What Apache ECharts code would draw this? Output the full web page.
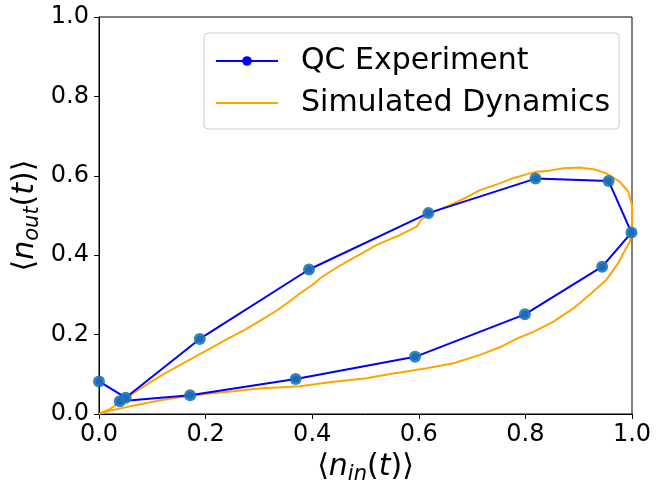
<!DOCTYPE html>
<html>
<head>
    <meta charset="utf-8">
    <title>n_in vs n_out</title>
    <script src="https://cdn.jsdelivr.net/npm/echarts@6/dist/echarts.min.js"></script>
    <style>
        html, body { margin: 0; padding: 0; background: #fff; }
        #main { width: 656px; height: 485px; }
    </style>
</head>
<body>
    <div id="main"></div>
    <script type="text/javascript">
    // QC experiment points, in time order
    var qcIn  = [0.000, 0.050, 0.189, 0.394, 0.618, 0.819, 0.956, 0.999, 0.944, 0.799, 0.593, 0.369, 0.171, 0.039];
    var qcOut = [0.082, 0.041, 0.189, 0.364, 0.506, 0.593, 0.587, 0.457, 0.371, 0.251, 0.144, 0.088, 0.047, 0.032];

    // simulated dynamics loop
    var simIn  = [0, 0.02, 0.054, 0.085, 0.118, 0.15, 0.18, 0.21, 0.242, 0.275, 0.305, 0.335, 0.361, 0.377, 0.4, 0.415, 0.44, 0.471, 0.495, 0.521, 0.545, 0.565, 0.596, 0.605, 0.621, 0.659, 0.69, 0.715, 0.752, 0.777, 0.8, 0.821, 0.845, 0.871, 0.902, 0.93, 0.952, 0.977, 0.993, 1.0, 1.0, 1.0, 0.996, 0.987, 0.974, 0.952, 0.927, 0.89, 0.852, 0.815, 0.784, 0.752, 0.715, 0.665, 0.615, 0.552, 0.502, 0.44, 0.377, 0.305, 0.242, 0.18, 0.118, 0.054, 0.02, 0];
    var simOut = [0, 0.012, 0.043, 0.07, 0.098, 0.122, 0.144, 0.166, 0.19, 0.213, 0.237, 0.262, 0.287, 0.304, 0.325, 0.342, 0.364, 0.388, 0.406, 0.426, 0.44, 0.451, 0.472, 0.49, 0.506, 0.526, 0.546, 0.564, 0.581, 0.594, 0.603, 0.61, 0.613, 0.619, 0.621, 0.616, 0.606, 0.585, 0.56, 0.526, 0.49, 0.459, 0.434, 0.413, 0.38, 0.338, 0.308, 0.266, 0.232, 0.207, 0.19, 0.168, 0.149, 0.128, 0.115, 0.102, 0.09, 0.081, 0.07, 0.065, 0.056, 0.048, 0.035, 0.018, 0.008, 0];

    function pairs(a, b) {
        var out = [];
        for (var i = 0; i < a.length; i++) out.push([a[i], b[i]]);
        return out;
    }

    var font = 'DejaVu Sans';
    var chart = echarts.init(document.getElementById('main'));

    var nameRich = {
        a: { fontFamily: font, fontSize: 30, color: '#000' },
        i: { fontFamily: font, fontSize: 30, fontStyle: 'italic', color: '#000' },
        s: { fontFamily: font, fontSize: 21, fontStyle: 'italic', color: '#000', padding: [14, 0, 0, 0] }
    };

    var option = {
        animation: false,
        grid: {
            left: 99, right: 24, top: 17, bottom: 71,
            outerBoundsMode: 'none',
            show: true, borderColor: '#000', borderWidth: 1, backgroundColor: '#fff'
        },
        legend: {
            data: [
                { name: 'QC Experiment' },
                { name: 'Simulated Dynamics', icon: 'path://M0,0L62,0L62,2L0,2Z' }
            ],
            orient: 'vertical',
            left: 204, top: 33,
            padding: [13, 9, 11, 11],
            itemWidth: 62, itemHeight: 12, itemGap: 12,
            symbolKeepAspect: true,
            backgroundColor: '#fff',
            borderColor: '#cccccc', borderWidth: 1, borderRadius: 4,
            textStyle: { fontFamily: font, fontSize: 30, color: '#000', padding: [0, 0, 0, 18] }
        },
        xAxis: {
            type: 'value', min: 0, max: 1, interval: 0.2,
            name: '{a|⟨}{i|n}{s|in}{a|(}{i|t}{a|)⟩}',
            nameLocation: 'middle', nameGap: 36, nameMoveOverlap: false,
            nameTextStyle: { rich: nameRich },
            axisLine: { show: true, lineStyle: { color: '#000', width: 1 } },
            axisTick: { show: true, inside: false, length: 5, lineStyle: { color: '#000' } },
            axisLabel: { fontFamily: font, fontSize: 24, color: '#000', margin: 9,
                formatter: function (v) { return v.toFixed(1); } },
            splitLine: { show: false }
        },
        yAxis: {
            type: 'value', min: 0, max: 1, interval: 0.2,
            name: '{a|⟨}{i|n}{s|out}{a|(}{i|t}{a|)⟩}',
            nameLocation: 'middle', nameGap: 56, nameRotate: 90, nameMoveOverlap: false,
            nameTextStyle: { rich: nameRich },
            axisLine: { show: true, lineStyle: { color: '#000', width: 1 } },
            axisTick: { show: true, inside: false, length: 5, lineStyle: { color: '#000' } },
            axisLabel: { fontFamily: font, fontSize: 24, color: '#000', margin: 10,
                formatter: function (v) { return v.toFixed(1); } },
            splitLine: { show: false }
        },
        series: [
            {
                name: 'Simulated Dynamics',
                type: 'line',
                data: pairs(simIn, simOut),
                showSymbol: false, symbol: 'none',
                lineStyle: { color: '#ffa500', width: 2 },
                itemStyle: { color: '#ffa500' },
                z: 2
            },
            {
                name: 'QC Experiment',
                type: 'line',
                data: pairs(qcIn, qcOut),
                symbol: 'circle', symbolSize: 7,
                lineStyle: { color: '#0000ff', width: 2 },
                itemStyle: { color: '#0000ff' },
                z: 3
            },
            {
                name: 'points',
                type: 'scatter',
                data: pairs(qcIn, qcOut),
                symbolSize: 12,
                itemStyle: { color: '#1f77b4', opacity: 0.9 },
                z: 4
            }
        ]
    };

    chart.setOption(option);
    </script>
</body>
</html>
